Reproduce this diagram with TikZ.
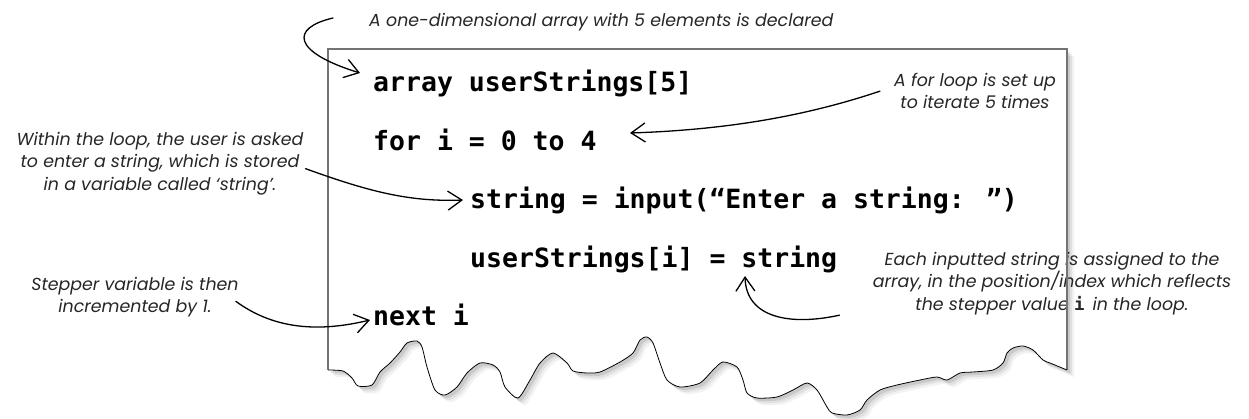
\documentclass[tikz,border=0pt]{standalone}
\usepackage{fontspec}
\usetikzlibrary{arrows.meta}
\newfontfamily\codefont{DejaVu Sans Mono}
\newfontfamily\notefont{Poppins}
\tikzset{
  code/.style={font=\codefont\bfseries\fontsize{26.5}{30}\selectfont, inner sep=0pt, anchor=base west, text=black},
  note/.style={font=\notefont\itshape\fontsize{17.4}{22.5}\selectfont, inner sep=0pt, align=center, text=black!85},
  callout/.style={line width=1.3pt, line cap=round, -{Straight Barb[length=14pt,width=19pt,line width=1.3pt]}},
  paperedge/.style={draw=black!55, line width=1.5pt},
  tornedge/.style={draw=black, line width=0.8pt},
}
\newcommand\tornpts{(1067,370) (1050,363) (1043,360) (1033,350) (1023,346) (1013,348) (1007,353) (1003,363) (993,370) (973,372) (960,373) (947,380) (937,377) (920,380) (897,385) (880,390) (867,400) (860,410) (847,415) (832,413) (827,407) (817,390) (807,383) (793,390) (777,397) (757,398) (747,393) (743,380) (737,367) (723,362) (713,370) (700,383) (680,387) (667,380) (660,363) (653,343) (647,337) (640,340) (633,353) (620,362) (600,372) (587,373) (573,371) (567,363) (553,353) (540,363) (530,380) (518,398) (505,387) (500,372) (493,365) (480,363) (467,373) (457,387) (445,395) (435,390) (427,367) (422,347) (417,341) (407,343) (400,352) (390,363) (380,372) (372,385) (358,386) (352,378) (343,371) (328,370)}
\begin{document}
\begin{tikzpicture}[x=1pt,y=-1pt]
\useasboundingbox (0,0) rectangle (1249,418);
% paper shadow
\foreach \s/\o in {7/0.05,5/0.07,3/0.1}{
  \path[fill=black,opacity=\o,xshift=\s pt,yshift=-\s pt]
    (328,49) -- (1067,49) -- plot[smooth,tension=0.45] coordinates {\tornpts} -- cycle;
}
% paper
\path[fill=white] (328,49) -- (1067,49) -- plot[smooth,tension=0.45] coordinates {\tornpts} -- cycle;

% code lines
\node[code] (a1) at (373,91) {array userStrings[5]};
\node[code] (f1) at (373,150) {for i = 0 to 4};
\node[code] (s1) at (470,208) {string = input(“Enter a string: ”)};
\node[code] (u1) at (470,267) {userStrings[i] = string};
\node[code] (n1) at (373,325) {next i};

% annotations
\node[note, anchor=base west] (t1) at (369,26) {A one-dimensional array with 5 elements is declared};
\node[note, anchor=north] (t2) at (975,73) {A for loop is set up\\to iterate 5 times};
\node[note, anchor=north] (t3) at (160,132) {Within the loop, the user is asked\\to enter a string, which is stored\\in a variable called ‘string’.};
\node[note, anchor=north] (t4) at (135,277) {Stepper variable is then\\incremented by 1.};
\node[note, anchor=north] (t5) at (1052,252) {Each inputted string is assigned to the\\array, in the position/index which reflects\\the stepper value {\codefont\upshape\bfseries i}\, in the loop.};

% paper outline
\draw[paperedge] (328,370) -- (328,49) -- (1067,49) -- (1067,370);
\draw[tornedge] plot[smooth,tension=0.45] coordinates {\tornpts};

% connectors
\draw[callout] ([xshift=-36pt,yshift=8pt]t1.base west) .. controls (290,28) and (292,52) .. ([xshift=-13pt,yshift=18pt]a1.base west);
\draw[callout] ([xshift=-14pt]t2.west) .. controls (800,118) and (720,130) .. ([xshift=257pt,yshift=17pt]f1.base west);
\draw[callout] ([xshift=2pt,yshift=-5pt]t3.east) .. controls (370,192) and (410,202) .. ([xshift=-7pt,yshift=8pt]s1.base west);
\draw[callout] ([xshift=-3pt,yshift=-4pt]t4.east) .. controls (275,330) and (320,332) .. ([xshift=-3pt,yshift=5pt]n1.base west);
\draw[callout] ([xshift=-33pt]t5.south west) .. controls (790,326) and (746,318) .. ([xshift=275pt,yshift=-9pt]u1.base west);
\end{tikzpicture}
\end{document}
